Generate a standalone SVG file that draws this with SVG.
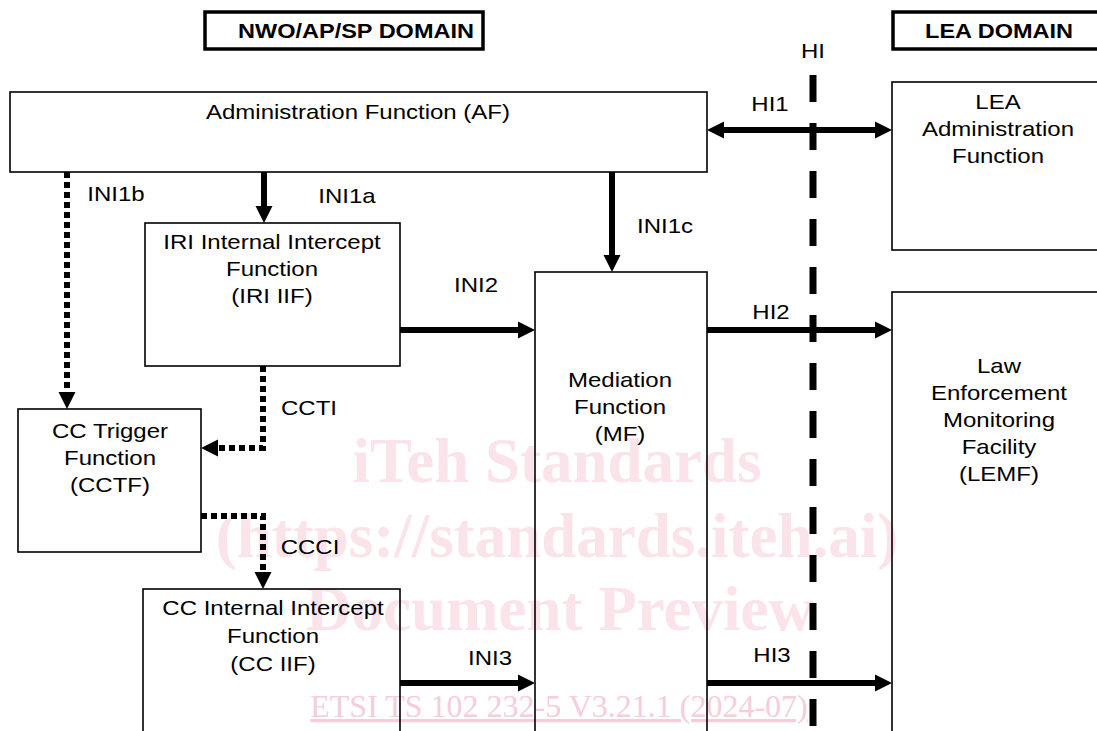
<svg xmlns="http://www.w3.org/2000/svg" width="1097" height="731" viewBox="0 0 1097 731">
<style>
.t{font-family:"Liberation Sans",Arial,sans-serif;font-size:20px;fill:#000;text-anchor:middle}
.b{font-weight:bold;font-size:19.6px}
.box{fill:none;stroke:#000;stroke-width:1.6}
.dom{fill:#fff;stroke:#000;stroke-width:3.5}
.sol{fill:none;stroke:#000;stroke-width:6}
.dot{fill:none;stroke:#000;stroke-width:6;stroke-dasharray:6 4}
.wm{font-family:"Liberation Serif","Times New Roman",serif;font-weight:bold;font-size:63px;fill:#fbe3ea;text-anchor:middle}
.wm2{font-family:"Liberation Serif","Times New Roman",serif;font-size:32px;fill:#f6cdd8;text-anchor:middle;text-decoration:underline}
</style>
<defs>
<marker id="ah" markerUnits="userSpaceOnUse" markerWidth="17" markerHeight="17" refX="0" refY="8.5" orient="auto" overflow="visible">
<path d="M0,0 L17,8.5 L0,17 z" fill="#000"/>
</marker>
<marker id="ahs" markerUnits="userSpaceOnUse" markerWidth="17" markerHeight="17" refX="0" refY="8.5" orient="auto-start-reverse" overflow="visible">
<path d="M0,0 L17,8.5 L0,17 z" fill="#000"/>
</marker>
</defs>
<rect width="1097" height="731" fill="#fff"/>
<g id="watermark">
<text class="wm" x="557" y="482">iTeh Standards</text>
<text class="wm" x="557" y="557">(https://standards.iteh.ai)</text>
<text class="wm" x="560" y="630">Document Preview</text>
<text class="wm2" x="559" y="717">ETSI TS 102 232-5 V3.21.1 (2024-07)</text>
</g>
<g id="nwo-domain">
<rect class="dom" x="205" y="12" width="278" height="37"/>
<text class="t b" transform="translate(356 38) scale(1.2 1)">NWO/AP/SP DOMAIN</text>
</g>
<g id="lea-domain">
<rect class="dom" x="893" y="12" width="220" height="37"/>
<text class="t b" transform="translate(999 38) scale(1.2 1)">LEA DOMAIN</text>
</g>
<g id="hi-label">
<text class="t" transform="translate(813 58) scale(1.2 1)">HI</text>
</g>
<g id="af">
<rect class="box" x="10" y="92" width="697" height="80"/>
<text class="t" transform="translate(358 119) scale(1.2 1)">Administration Function (AF)</text>
</g>
<g id="lea-af">
<rect class="box" x="892" y="82" width="220" height="168"/>
<text class="t" transform="translate(998 109) scale(1.2 1)"><tspan x="0">LEA</tspan><tspan x="0" dy="27">Administration</tspan><tspan x="0" dy="27">Function</tspan></text>
</g>
<g id="iri-iif">
<rect class="box" x="145" y="223" width="255" height="143"/>
<text class="t" transform="translate(272 249) scale(1.2 1)"><tspan x="0">IRI Internal Intercept</tspan><tspan x="0" dy="27">Function</tspan><tspan x="0" dy="27">(IRI IIF)</tspan></text>
</g>
<g id="mf">
<rect class="box" x="535" y="272" width="172" height="470"/>
<text class="t" transform="translate(620 387) scale(1.2 1)"><tspan x="0">Mediation</tspan><tspan x="0" dy="27">Function</tspan><tspan x="0" dy="27">(MF)</tspan></text>
</g>
<g id="lemf">
<rect class="box" x="892" y="292" width="220" height="450"/>
<text class="t" transform="translate(999 373) scale(1.2 1)"><tspan x="0">Law</tspan><tspan x="0" dy="27">Enforcement</tspan><tspan x="0" dy="27">Monitoring</tspan><tspan x="0" dy="27">Facility</tspan><tspan x="0" dy="27">(LEMF)</tspan></text>
</g>
<g id="cctf">
<rect class="box" x="18" y="409" width="183" height="143"/>
<text class="t" transform="translate(110 438) scale(1.2 1)"><tspan x="0">CC Trigger</tspan><tspan x="0" dy="27">Function</tspan><tspan x="0" dy="27">(CCTF)</tspan></text>
</g>
<g id="cc-iif">
<rect class="box" x="143" y="589" width="257" height="160"/>
<text class="t" transform="translate(273 615) scale(1.2 1)"><tspan x="0">CC Internal Intercept</tspan><tspan x="0" dy="28">Function</tspan><tspan x="0" dy="28">(CC IIF)</tspan></text>
</g>
<g id="connectors">
<line x1="813" y1="75" x2="813" y2="731" stroke="#000" stroke-width="7" stroke-dasharray="27 21"/>
<line class="sol" x1="724" y1="130" x2="875" y2="130" marker-start="url(#ahs)" marker-end="url(#ah)"/>
<line class="sol" x1="264" y1="172" x2="264" y2="206" marker-end="url(#ah)"/>
<line class="sol" x1="612" y1="172" x2="612" y2="255" marker-end="url(#ah)"/>
<line class="sol" x1="400" y1="330" x2="518" y2="330" marker-end="url(#ah)"/>
<line class="sol" x1="707" y1="330" x2="875" y2="330" marker-end="url(#ah)"/>
<line class="sol" x1="400" y1="683" x2="518" y2="683" marker-end="url(#ah)"/>
<line class="sol" x1="707" y1="683" x2="875" y2="683" marker-end="url(#ah)"/>
<polyline class="dot" points="67,172 67,392" marker-end="url(#ah)"/>
<polyline class="dot" points="263,366 263,448 218,448" marker-end="url(#ah)"/>
<polyline class="dot" points="201,516 263,516 263,572" marker-end="url(#ah)"/>
<text class="t" transform="translate(116 201) scale(1.2 1)">INI1b</text>
<text class="t" transform="translate(347 203) scale(1.2 1)">INI1a</text>
<text class="t" transform="translate(665 233) scale(1.2 1)">INI1c</text>
<text class="t" transform="translate(770 111) scale(1.2 1)">HI1</text>
<text class="t" transform="translate(476 292) scale(1.2 1)">INI2</text>
<text class="t" transform="translate(771 319) scale(1.2 1)">HI2</text>
<text class="t" transform="translate(309 415) scale(1.2 1)">CCTI</text>
<text class="t" transform="translate(310 554) scale(1.2 1)">CCCI</text>
<text class="t" transform="translate(490 665) scale(1.2 1)">INI3</text>
<text class="t" transform="translate(772 662) scale(1.2 1)">HI3</text>
</g>
</svg>
